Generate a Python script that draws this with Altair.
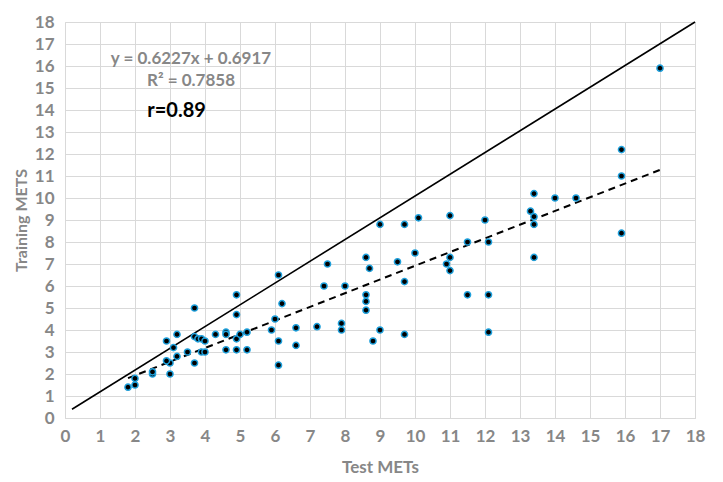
import altair as alt
import pandas as pd

test_mets = [1.8, 2.0, 2.0, 2.5, 2.5, 3.0, 3.0, 2.9, 2.9, 3.1, 3.2, 3.2, 3.5,
             3.7, 3.7, 3.7, 3.8, 3.9, 4.0, 3.9, 4.0, 4.3, 4.6, 4.6, 4.6,
             4.9, 4.9, 4.9, 5.0, 5.2, 5.2, 4.9, 6.1, 6.1, 6.1, 6.2, 6.0, 5.9,
             6.6, 6.6, 7.2, 7.5, 7.4, 7.9, 7.9, 8.0, 8.6, 8.6, 8.6, 8.6, 8.7,
             8.8, 9.0, 9.5, 9.7, 9.7, 10.0, 9.0, 9.7, 10.1, 11.0, 12.0, 13.4,
             14.0, 14.6, 13.3, 13.4, 13.4, 13.4, 11.5, 12.1, 10.9, 11.0, 11.0,
             11.5, 12.1, 12.1, 17.0, 15.9, 15.9, 15.9]
training_mets = [1.4, 1.5, 1.8, 2.0, 2.1, 2.0, 2.5, 2.6, 3.5, 3.2, 2.8, 3.8, 3.0,
                 5.0, 2.5, 3.7, 3.6, 3.6, 3.5, 3.0, 3.0, 3.8, 3.9, 3.8, 3.1,
                 4.7, 3.1, 3.6, 3.8, 3.1, 3.9, 5.6, 6.5, 3.5, 2.4, 5.2, 4.5, 4.0,
                 4.1, 3.3, 4.15, 7.0, 6.0, 4.3, 4.0, 6.0, 7.3, 5.6, 5.3, 4.9, 6.8,
                 3.5, 4.0, 7.1, 6.2, 3.8, 7.5, 8.8, 8.8, 9.1, 9.2, 9.0, 10.2,
                 10.0, 10.0, 9.4, 9.15, 8.8, 7.3, 8.0, 8.0, 7.0, 7.3, 6.7,
                 5.6, 5.6, 3.9, 15.9, 12.2, 11.0, 8.4]

slope = 0.6227
intercept = 0.6917
ident_x = [0.2, 18.0]
ident_y = [0.4, 18.0]

tick_vals = list(range(0, 19))

pts = pd.DataFrame({"x": test_mets, "y": training_mets})
xmin, xmax = min(test_mets), max(test_mets)
trend = pd.DataFrame({"x": [xmin, xmax],
                      "y": [slope * xmin + intercept, slope * xmax + intercept]})
ident = pd.DataFrame({"x": ident_x, "y": ident_y})

gray = "#878787"
font = "Lato"

xscale = alt.Scale(domain=[0, 18], nice=False, zero=False)
yscale = alt.Scale(domain=[0, 18], nice=False, zero=False)

xaxis = alt.Axis(values=tick_vals, title="Test METs", grid=True, gridColor="#d9d9d9",
                 domain=True, domainColor="#d9d9d9", ticks=False,
                 labelOverlap=False, labelFlush=False,
                 labelFont=font, labelFontSize=17, labelFontWeight="bold", labelColor=gray,
                 labelPadding=10, titleFont=font, titleFontSize=17, titleFontWeight="bold",
                 titleColor=gray, titlePadding=15)
yaxis = alt.Axis(values=tick_vals, title="Training METS", grid=True, gridColor="#d9d9d9",
                 domain=False, ticks=False,
                 labelOverlap=False, labelFlush=False,
                 labelFont=font, labelFontSize=17, labelFontWeight="bold", labelColor=gray,
                 labelPadding=11, titleFont=font, titleFontSize=16, titleFontWeight="bold",
                 titleColor=gray, titlePadding=5)

X = alt.X("x:Q", scale=xscale, axis=xaxis)
Y = alt.Y("y:Q", scale=yscale, axis=yaxis)

points = alt.Chart(pts).mark_point(filled=True, fill="black", stroke="#1ea0dc",
                                   strokeWidth=1.5, size=38, opacity=1).encode(x=X, y=Y)

ident_line = alt.Chart(ident).mark_line(color="black", strokeWidth=1.6).encode(x=X, y=Y)

trend_line = alt.Chart(trend).mark_line(color="black", strokeWidth=2,
                                        strokeDash=[7, 5]).encode(x=X, y=Y)

ann = pd.DataFrame({
    "x": [3.6, 3.6],
    "y": [16.3, 15.3],
    "t": [f"y = {slope}x + {intercept}", "R² = 0.7858"],
})
ann_text = alt.Chart(ann).mark_text(font=font, fontSize=17, fontWeight="bold",
                                    color=gray, align="center", baseline="middle").encode(
    x=X, y=Y, text="t:N")

r_df = pd.DataFrame({"x": [2.35], "y": [13.95], "t": ["r=0.89"]})
r_text = alt.Chart(r_df).mark_text(font=font, fontSize=20, fontWeight="bold",
                                   color="black", align="left", baseline="middle").encode(
    x=X, y=Y, text="t:N")

chart = alt.layer(ident_line, trend_line, points, ann_text, r_text).properties(
    width=630, height=396,
    autosize=alt.AutoSizeParams(type="none"),
    padding={"left": 57, "top": 14, "right": 20, "bottom": 70},
).configure_view(stroke=None).configure(background="white")

chart.save("out.html", embed_options={"renderer": "svg", "actions": False})
